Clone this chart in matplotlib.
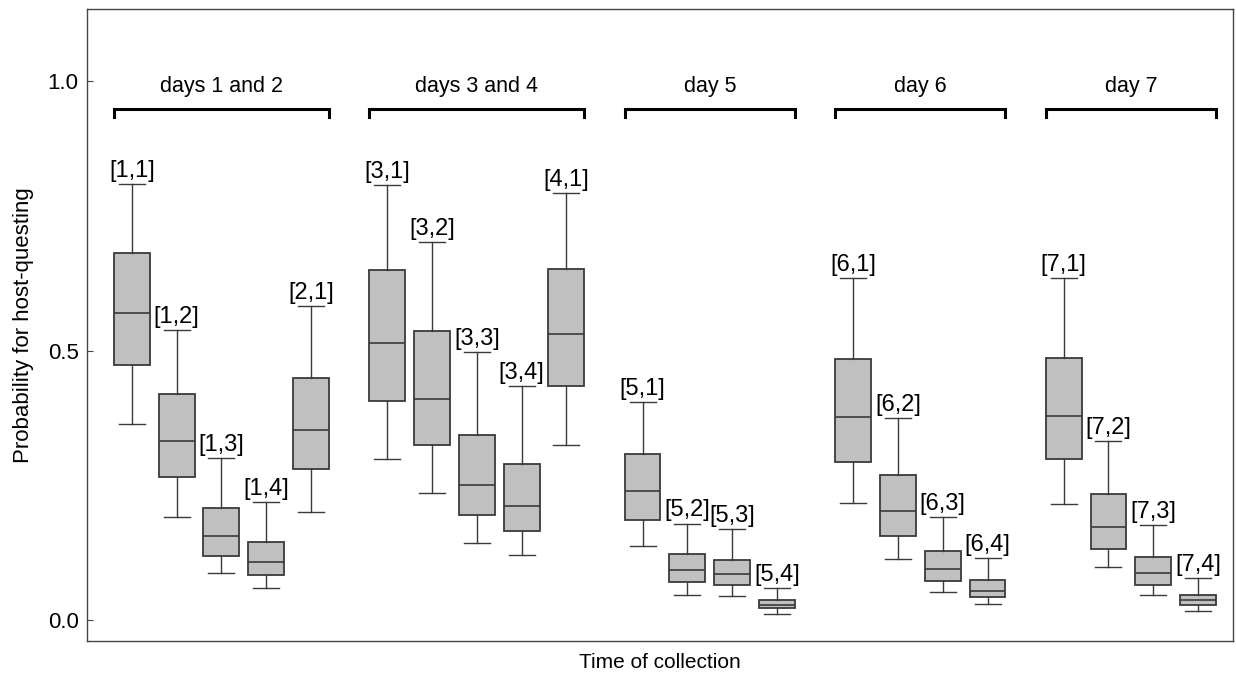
import matplotlib
matplotlib.use('Agg')
import matplotlib.pyplot as plt
import numpy as np

plt.rcParams['font.family'] = ['Liberation Sans', 'DejaVu Sans']

# box labels, grouped by day
groups = ['days 1 and 2', 'days 3 and 4', 'day 5', 'day 6', 'day 7']
group_sizes = [5, 5, 4, 4, 4]
labels = ['[1,1]', '[1,2]', '[1,3]', '[1,4]', '[2,1]',
          '[3,1]', '[3,2]', '[3,3]', '[3,4]', '[4,1]',
          '[5,1]', '[5,2]', '[5,3]', '[5,4]',
          '[6,1]', '[6,2]', '[6,3]', '[6,4]',
          '[7,1]', '[7,2]', '[7,3]', '[7,4]']

# box statistics
whishi = [0.809, 0.538, 0.300, 0.219, 0.583,
          0.808, 0.701, 0.497, 0.434, 0.793,
          0.404, 0.179, 0.168, 0.059,
          0.634, 0.375, 0.191, 0.115,
          0.634, 0.333, 0.176, 0.077]
q3 = [0.681, 0.419, 0.207, 0.145, 0.450,
      0.649, 0.537, 0.343, 0.289, 0.651,
      0.309, 0.122, 0.112, 0.037,
      0.485, 0.270, 0.128, 0.074,
      0.487, 0.234, 0.117, 0.047]
med = [0.570, 0.333, 0.155, 0.108, 0.353,
       0.515, 0.411, 0.251, 0.211, 0.530,
       0.239, 0.092, 0.085, 0.027,
       0.376, 0.202, 0.095, 0.054,
       0.379, 0.173, 0.088, 0.037]
q1 = [0.473, 0.265, 0.118, 0.083, 0.280,
      0.406, 0.325, 0.195, 0.165, 0.434,
      0.186, 0.070, 0.064, 0.022,
      0.294, 0.155, 0.072, 0.043,
      0.298, 0.132, 0.064, 0.027]
whislo = [0.364, 0.191, 0.088, 0.059, 0.201,
          0.299, 0.236, 0.142, 0.120, 0.325,
          0.138, 0.047, 0.044, 0.011,
          0.217, 0.113, 0.051, 0.030,
          0.216, 0.098, 0.047, 0.017]

# x positions: step 1 inside a group, extra gap between groups
gap = 1.7
positions = []
x = 0.0
for n in group_sizes:
    for i in range(n):
        positions.append(x)
        x += 1
    x += gap - 1

stats = []
for i in range(len(labels)):
    stats.append(dict(med=med[i], q1=q1[i], q3=q3[i],
                      whislo=whislo[i], whishi=whishi[i], fliers=[]))

fig = plt.figure(figsize=(12.36, 6.79), dpi=100)
ax = fig.add_axes([0.0704, 0.056, 0.9272, 0.9306])

bw = 0.8
ax.bxp(stats, positions=positions, widths=bw, capwidths=0.58,
       patch_artist=True, showfliers=False,
       boxprops=dict(facecolor='#c0c0c0', edgecolor='#3a3a3a', linewidth=1.3),
       medianprops=dict(color='#3a3a3a', linewidth=1.2),
       whiskerprops=dict(color='#3a3a3a', linewidth=1.0),
       capprops=dict(color='#3a3a3a', linewidth=1.0))

for i, lab in enumerate(labels):
    ax.annotate(lab, (positions[i], whishi[i]), xytext=(0, 1.5),
                textcoords='offset points', ha='center', va='bottom',
                fontsize=17)

# group brackets
start = 0
for g, n in zip(groups, group_sizes):
    x0 = positions[start] - bw / 2
    x1 = positions[start + n - 1] + bw / 2
    ax.plot([x0, x0, x1, x1], [0.933, 0.948, 0.948, 0.933],
            color='black', linewidth=2.2, solid_joinstyle='miter')
    ax.text((x0 + x1) / 2, 0.99, g, ha='center', va='center', fontsize=15.5)
    start += n

ax.set_xlim(-1.0, 24.58)
ax.set_ylim(-0.039, 1.134)
ax.set_xticks([])
ax.set_yticks([0.0, 0.5, 1.0])
ax.set_yticklabels(['0.0', '0.5', '1.0'])
ax.tick_params(axis='y', direction='in', length=4, labelsize=16,
               color='#444444', pad=6)
for s in ax.spines.values():
    s.set_color('#444444')
    s.set_linewidth(1.0)

ax.set_ylabel('Probability for host-questing', fontsize=16, labelpad=10)
ax.set_xlabel('Time of collection', fontsize=15, labelpad=9)

fig.savefig('out.png', dpi=100)
